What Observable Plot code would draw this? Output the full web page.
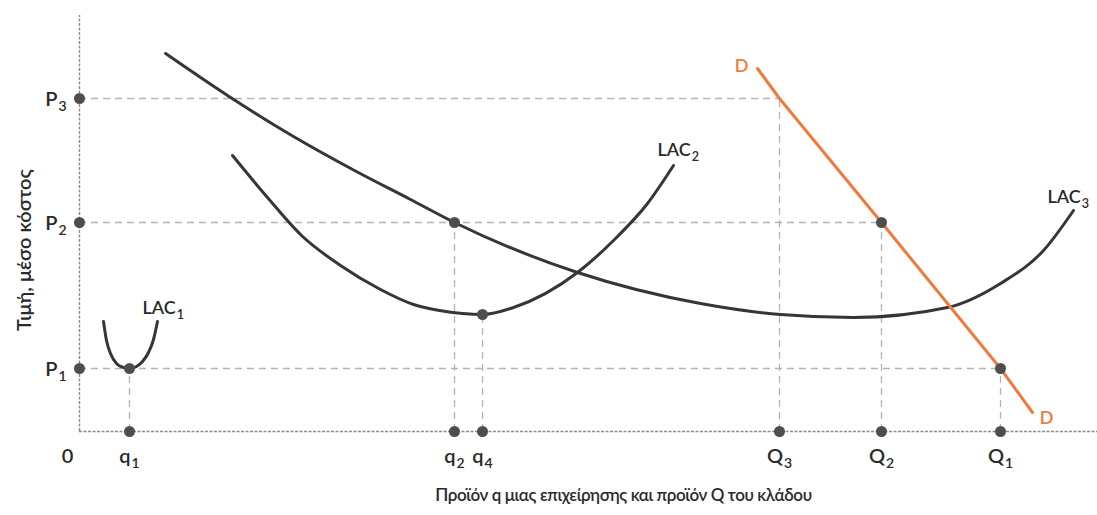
<!DOCTYPE html>
<html><head><meta charset="utf-8">
<script src="https://cdn.jsdelivr.net/npm/d3@7"></script>
<script src="https://cdn.jsdelivr.net/npm/@observablehq/plot@0.6"></script>
<style>
  body { margin: 0; background: #fff; }
  svg { display: block; }
</style>
</head><body><div id="chart"></div>
<script>
// ---- values (x: output, y: price / average cost) ----
const q1 = 5.0, q2 = 37.5, q4 = 40.3;          // firm output levels
const Q3 = 70.0, Q2 = 80.2, Q1 = 92.1;          // industry output levels
const P1 = 6.3, P2 = 20.9, P3 = 33.3;           // price levels
const lac2Min = 11.7;                            // minimum of LAC2 (at q4)

const xTicks = [
  {label: "q_1", x: q1}, {label: "q_2", x: q2}, {label: "q_4", x: q4},
  {label: "Q_3", x: Q3}, {label: "Q_2", x: Q2}, {label: "Q_1", x: Q1}
];
const yTicks = [
  {label: "P_1", y: P1}, {label: "P_2", y: P2}, {label: "P_3", y: P3}
];

// long-run average cost curves [output, cost]
const lac1 = [[2.4,11.0],[2.7,9.1],[3.1,7.8],[3.7,6.8],[4.4,6.4],[5.0,6.3],[5.7,6.5],[6.3,7.0],[6.9,7.9],[7.4,9.2],[7.8,11.0]];
const lac2 = [[15.3,27.6],[18.8,23.4],[22.2,19.6],[26.1,16.6],[30.1,14.2],[33.4,12.7],[36.0,12.1],[38.3,11.8],[40.3,11.7],[43.4,12.4],[49.8,15.9],[53.4,19.1],[56.8,22.8],[59.4,26.6]];
const lac3 = [[8.6,37.8],[14.8,33.6],[21.4,29.5],[27.5,26.1],[33.1,23.2],[37.5,20.9],[49.8,15.9],[62.1,12.8],[70.1,11.7],[77.4,11.4],[86.8,12.4],[92.1,14.8],[96.4,18.1],[99.4,22.1]];
// industry demand D
const demand = [[67.8,36.3],[Q3,P3],[Q2,P2],[Q1,P1],[95.3,1.9]];

// dashed guides and marked points, built from the values above
const hGuides = [{y: P1, x2: Q1}, {y: P2, x2: Q2}, {y: P3, x2: Q3}];
const vGuides = [{x: q1, y2: P1}, {x: q2, y2: P2}, {x: q4, y2: lac2Min}, {x: Q3, y2: P3}, {x: Q2, y2: P2}, {x: Q1, y2: P1}];
const curvePoints = [[q1,P1],[q2,P2],[q4,lac2Min],[Q2,P2],[Q1,P1]];

const curveNames = ["LAC_1", "LAC_2", "LAC_3"];
const xTitle = "Προϊόν q μιας επιχείρησης και προϊόν Q του κλάδου";
const yTitle = "Τιμή, μέσο κόστος";

const ink = "#363636", dotInk = "#4e4e4e", guide = "#b4b4b4", orange = "#ef7a3d", txt = "#2a2a2a";
const last = a => a[a.length - 1];
const px = d => d[0], py = d => d[1];
const lbl = {fontSize: 18, fontWeight: 600, fill: txt, textAnchor: "start"};

const chart = Plot.plot({
  width: 1097, height: 515,
  marginLeft: 79, marginRight: 0, marginTop: 0, marginBottom: 84,
  x: {domain: [0, 101.8], axis: null},
  y: {domain: [0, 43.1], axis: null},
  style: {fontFamily: "Lato, 'Noto Sans', sans-serif", background: "#fff", color: ink},
  marks: [
    // dashed guides
    Plot.ruleY(hGuides, {y: "y", x1: () => 0, x2: "x2", stroke: guide, strokeWidth: 1.3, strokeDasharray: "7,5"}),
    Plot.ruleX(vGuides, {x: "x", y1: () => 0, y2: "y2", stroke: guide, strokeWidth: 1.3, strokeDasharray: "7,5"}),
    // axes
    Plot.ruleY([0], {stroke: "#8c8c8c", strokeWidth: 1.4, strokeDasharray: "3,1.5"}),
    Plot.ruleX([0], {y1: () => 0, y2: () => 41.6, stroke: "#8c8c8c", strokeWidth: 1.4, strokeDasharray: "3,1.5"}),
    // curves
    Plot.line(lac1, {x: px, y: py, curve: "monotone-x", stroke: ink, strokeWidth: 3}),
    Plot.line(lac2, {x: px, y: py, curve: "monotone-x", stroke: ink, strokeWidth: 3}),
    Plot.line(lac3, {x: px, y: py, curve: "monotone-x", stroke: ink, strokeWidth: 3}),
    Plot.line(demand, {x: px, y: py, stroke: orange, strokeWidth: 3}),
    // dots
    Plot.dot(yTicks, {x: () => 0, y: "y", r: 5.5, fill: dotInk}),
    Plot.dot(xTicks, {x: "x", y: () => 0, r: 5.5, fill: dotInk}),
    Plot.dot(curvePoints, {x: px, y: py, r: 5.5, fill: dotInk}),
    // tick labels
    Plot.text(yTicks, {x: () => 0, y: "y", text: "label", textAnchor: "end", dx: -13, dy: 1, fontSize: 20, fontWeight: 600, fill: txt}),
    Plot.text(xTicks, {x: "x", y: () => 0, text: "label", dy: 25, fontSize: 20, fontWeight: 600, fill: txt}),
    Plot.text(["0"], {x: () => 0, y: () => 0, text: d => d, dx: -12, dy: 25, fontSize: 20, fontWeight: 600, fill: txt}),
    // curve labels
    Plot.text([last(lac1)], {x: px, y: py, text: () => curveNames[0], dx: -15, dy: -13, ...lbl}),
    Plot.text([last(lac2)], {x: px, y: py, text: () => curveNames[1], dx: -16, dy: -15, ...lbl}),
    Plot.text([last(lac3)], {x: px, y: py, text: () => curveNames[2], dx: -26, dy: -13, ...lbl}),
    Plot.text([demand[0]], {x: px, y: py, text: () => "D", dx: -16, dy: -2, fontSize: 18, fontWeight: 600, fill: orange}),
    Plot.text([last(demand)], {x: px, y: py, text: () => "D", dx: 14, dy: 6, fontSize: 18, fontWeight: 600, fill: orange}),
    // axis titles
    Plot.text([xTitle], {frameAnchor: "bottom", text: d => d, dx: 35, dy: 69, fontSize: 17, fontWeight: 600, fill: txt}),
    Plot.text([yTitle], {frameAnchor: "left", text: d => d, textAnchor: "middle", rotate: -90, fontSize: 20, fontWeight: 600, fill: txt})
  ]
});

// subscripts: "X_n" -> X with subscript n; place / tighten axis titles
chart.querySelectorAll("text").forEach(t => {
  const s = t.textContent;
  if (s === xTitle) t.setAttribute("letter-spacing", "-0.4");
  if (s === yTitle) {
    if (t.parentNode) t.parentNode.removeAttribute("transform");
    t.setAttribute("text-anchor", "middle");
    t.setAttribute("transform", "translate(25,250) rotate(-90)");
  }
  const i = s.indexOf("_");
  if (i < 0) return;
  t.textContent = s.slice(0, i);
  const ts = document.createElementNS("http://www.w3.org/2000/svg", "tspan");
  ts.setAttribute("font-size", "0.7em");
  ts.setAttribute("dy", "0.35em");
  ts.setAttribute("dx", "1");
  ts.textContent = s.slice(i + 1);
  t.appendChild(ts);
});

document.getElementById("chart").appendChild(chart);
</script>
</body></html>
